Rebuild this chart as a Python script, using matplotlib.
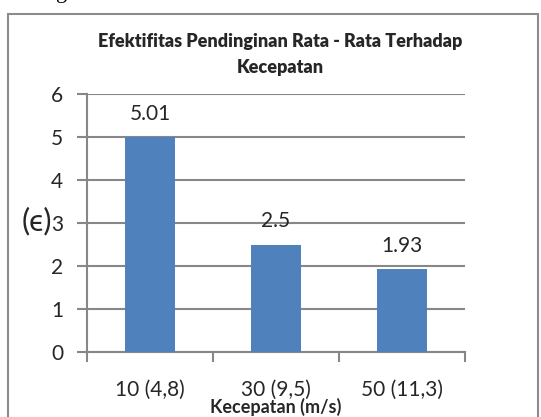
import matplotlib
matplotlib.use("Agg")
import matplotlib.pyplot as plt
from matplotlib.patches import Rectangle

categories = ["10 (4,8)", "30 (9,5)", "50 (11,3)"]
values = [5.01, 2.5, 1.93]
value_labels = ["5.01", "2.5", "1.93"]
yticks = [0, 1, 2, 3, 4, 5, 6]

W, H = 541, 417
fig = plt.figure(figsize=(W / 100, H / 100), dpi=100)
fig.patch.set_facecolor("white")

# outer chart border
fig.patches.append(Rectangle((8 / W, -0.05), (538 - 8) / W, 1.05 - 14 / H,
                             transform=fig.transFigure, fill=False,
                             edgecolor="#8c8c8c", linewidth=1.5))

ax = fig.add_axes([87 / W, 1 - 352 / H, (465 - 87) / W, (352 - 94) / H])
x = list(range(len(categories)))
ax.bar(x, values, width=0.4, color="#4F81BD", zorder=3)
ax.set_xlim(-0.5, len(categories) - 0.5)
ax.set_ylim(0, 6)
ax.set_yticks(yticks)
ax.yaxis.grid(True, color="#878787", linewidth=1.5, zorder=0)
ax.set_axisbelow(True)

for s in ["top", "right"]:
    ax.spines[s].set_visible(False)
for s in ["left", "bottom"]:
    ax.spines[s].set_color("#878787")
    ax.spines[s].set_linewidth(1.5)

font = ["Lato", "DejaVu Sans"]
txtc = "#262626"
ax.set_yticklabels([str(t) for t in yticks], fontsize=15, family=font, color=txtc)
ax.tick_params(axis="y", length=7, width=1.5, color="#878787", pad=10)
ax.set_xticks([i - 0.5 for i in range(len(categories) + 1)], minor=False)
ax.set_xticklabels([])
ax.tick_params(axis="x", which="major", length=7, width=1.5, color="#878787")
ax.set_xticks(x, minor=True)
ax.set_xticklabels(categories, minor=True, fontsize=15, family=font, color=txtc)
ax.tick_params(axis="x", which="minor", length=0, pad=20)

for xi, v, lab in zip(x, values, value_labels):
    ax.annotate(lab, (xi, v), xytext=(0, 23), textcoords="offset pixels",
                ha="center", va="center", fontsize=15, family=font, color=txtc)

fig.text(276 / W, 1 - 407 / H, "Kecepatan (m/s)", fontsize=13, fontweight="bold",
         family=font, ha="center", va="center", color=txtc)

fig.text(37 / W, 1 - 221 / H, "(ϵ)", fontsize=22, family=font,
         ha="center", va="center", color=txtc)

fig.text(280 / W, 1 - 42 / H, "Efektifitas Pendinginan Rata - Rata Terhadap",
         fontsize=13, fontweight="heavy", family=font, ha="center", va="center", color=txtc)
fig.text(280 / W, 1 - 67 / H, "Kecepatan",
         fontsize=13, fontweight="heavy", family=font, ha="center", va="center", color=txtc)

fig.text(62 / W, 1 + 2 / H, "g", fontsize=16, family=["Liberation Serif"],
         ha="center", va="baseline")

fig.savefig("out.png", dpi=100)
